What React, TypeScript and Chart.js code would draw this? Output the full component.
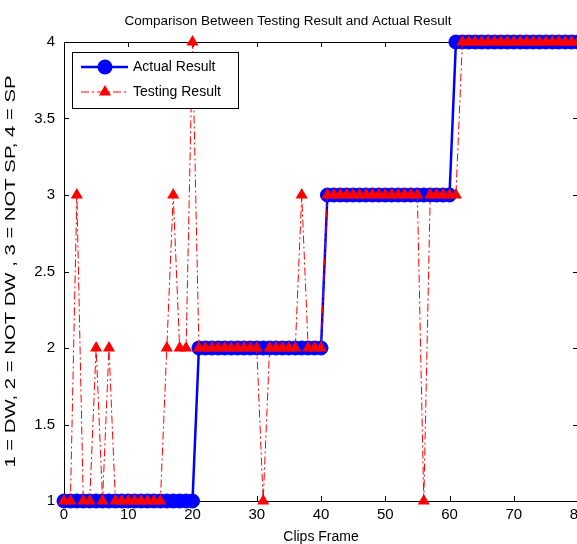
import React, { useEffect, useRef } from 'react';
import { Chart, registerables } from 'chart.js';

Chart.register(...registerables);

const frames = [
  0, 1, 2, 3, 4, 5, 6, 7, 8, 9, 10, 11, 12, 13, 14, 15, 16, 17, 18, 19, 20,
  21, 22, 23, 24, 25, 26, 27, 28, 29, 30, 31, 32, 33, 34, 35, 36, 37, 38, 39, 40,
  41, 42, 43, 44, 45, 46, 47, 48, 49, 50, 51, 52, 53, 54, 55, 56, 57, 58, 59, 60,
  61, 62, 63, 64, 65, 66, 67, 68, 69, 70, 71, 72, 73, 74, 75, 76, 77, 78, 79, 80,
];

const actualResult = [
  1, 1, 1, 1, 1, 1, 1, 1, 1, 1, 1, 1, 1, 1, 1, 1, 1, 1, 1, 1, 1,
  2, 2, 2, 2, 2, 2, 2, 2, 2, 2, 2, 2, 2, 2, 2, 2, 2, 2, 2, 2,
  3, 3, 3, 3, 3, 3, 3, 3, 3, 3, 3, 3, 3, 3, 3, 3, 3, 3, 3, 3,
  4, 4, 4, 4, 4, 4, 4, 4, 4, 4, 4, 4, 4, 4, 4, 4, 4, 4, 4, 4,
];

const testingResult = [
  1, 1, 3, 1, 1, 2, 1, 2, 1, 1, 1, 1, 1, 1, 1, 1, 2, 3, 2, 2, 4,
  2, 2, 2, 2, 2, 2, 2, 2, 2, 2, 1, 2, 2, 2, 2, 2, 3, 2, 2, 2,
  3, 3, 3, 3, 3, 3, 3, 3, 3, 3, 3, 3, 3, 3, 3, 1, 3, 3, 3, 3,
  3, 4, 4, 4, 4, 4, 4, 4, 4, 4, 4, 4, 4, 4, 4, 4, 4, 4, 4, 4,
];

const xTicks = [0, 10, 20, 30, 40, 50, 60, 70, 80];
const yTicks = [1, 1.5, 2, 2.5, 3, 3.5, 4];
const seriesNames = ['Actual Result', 'Testing Result'];
const titleText = 'Comparison Between Testing Result and Actual Result';
const xLabel = 'Clips Frame';
const yLabel = '1 = DW, 2 = NOT DW , 3 = NOT SP, 4 = SP';

const FONT = '"Liberation Sans", Arial, sans-serif';
const BLUE = '#0000ff';
const RED = '#ff0000';
const DASH = [8, 3, 2, 3];

const framePlugin = {
  id: 'matlabFrame',
  beforeDatasetsDraw(chart: any) {
    const { ctx, chartArea } = chart;
    const { left, right, top, bottom } = chartArea;
    const xs = chart.scales.x;
    const ys = chart.scales.y;
    ctx.save();
    ctx.strokeStyle = '#000';
    ctx.lineWidth = 1;
    ctx.beginPath();
    ctx.rect(Math.round(left) + 0.5, Math.round(top) + 0.5, Math.round(right - left), Math.round(bottom - top));
    ctx.stroke();
    const tl = 5;
    ctx.beginPath();
    xTicks.forEach((v) => {
      const p = Math.round(xs.getPixelForValue(v)) + 0.5;
      ctx.moveTo(p, bottom);
      ctx.lineTo(p, bottom - tl);
      ctx.moveTo(p, top);
      ctx.lineTo(p, top + tl);
    });
    yTicks.forEach((v) => {
      const p = Math.round(ys.getPixelForValue(v)) + 0.5;
      ctx.moveTo(left, p);
      ctx.lineTo(left + tl, p);
      ctx.moveTo(right, p);
      ctx.lineTo(right - tl, p);
    });
    ctx.stroke();
    ctx.restore();
  },
};

const textPlugin = {
  id: 'matlabTexts',
  afterDraw(chart: any) {
    const { ctx, chartArea } = chart;
    ctx.save();
    ctx.fillStyle = '#000';
    ctx.font = `13.5px ${FONT}`;
    ctx.textAlign = 'center';
    ctx.textBaseline = 'middle';
    ctx.fillText(titleText, 288, 21);

    // rotated y-axis label, elongated along its baseline like the Matlab rendering
    ctx.translate(11, (chartArea.top + chartArea.bottom) / 2);
    ctx.rotate(-Math.PI / 2);
    ctx.scale(1.45, 1);
    ctx.font = `14px ${FONT}`;
    ctx.fillText(yLabel, 0, 0);
    ctx.restore();
  },
};

const legendPlugin = {
  id: 'insideLegend',
  afterDatasetsDraw(chart: any) {
    const { ctx } = chart;
    const bx = 72.5, by = 52.5, bw = 166, bh = 56;
    ctx.save();
    ctx.fillStyle = '#fff';
    ctx.fillRect(bx, by, bw, bh);
    ctx.strokeStyle = '#000';
    ctx.lineWidth = 1;
    ctx.strokeRect(bx, by, bw, bh);

    // Actual Result
    let y = 67;
    ctx.strokeStyle = BLUE;
    ctx.lineWidth = 2.5;
    ctx.beginPath();
    ctx.moveTo(81, y);
    ctx.lineTo(128, y);
    ctx.stroke();
    ctx.fillStyle = BLUE;
    ctx.beginPath();
    ctx.arc(105, y, 7.5, 0, Math.PI * 2);
    ctx.fill();

    // Testing Result
    y = 92;
    ctx.strokeStyle = RED;
    ctx.lineWidth = 1;
    ctx.setLineDash(DASH);
    ctx.beginPath();
    ctx.moveTo(81, y);
    ctx.lineTo(128, y);
    ctx.stroke();
    ctx.setLineDash([]);
    ctx.fillStyle = RED;
    const r = 7;
    ctx.beginPath();
    ctx.moveTo(105, y - r);
    ctx.lineTo(105 + r * Math.sqrt(3) / 2, y + r / 2);
    ctx.lineTo(105 - r * Math.sqrt(3) / 2, y + r / 2);
    ctx.closePath();
    ctx.fill();

    ctx.fillStyle = '#000';
    ctx.font = `14px ${FONT}`;
    ctx.textAlign = 'left';
    ctx.textBaseline = 'middle';
    ctx.fillText(seriesNames[0], 133, 67);
    ctx.fillText(seriesNames[1], 133, 92);
    ctx.restore();
  },
};

export default function App() {
  const canvasRef = useRef<HTMLCanvasElement | null>(null);

  useEffect(() => {
    const canvas = canvasRef.current;
    if (!canvas) return;
    const actualData = frames.map((f, i) => ({ x: f, y: actualResult[i] }));
    const testingData = frames.map((f, i) => ({ x: f, y: testingResult[i] }));

    const chart = new Chart(canvas, {
      type: 'line',
      data: {
        datasets: [
          {
            label: seriesNames[1],
            data: testingData,
            borderColor: RED,
            backgroundColor: RED,
            borderWidth: 1,
            borderDash: DASH,
            pointStyle: 'triangle',
            pointRadius: 7,
            pointBorderWidth: 0,
            pointBackgroundColor: RED,
            tension: 0,
            clip: false as any,
            order: 1,
          },
          {
            label: seriesNames[0],
            data: actualData,
            borderColor: BLUE,
            backgroundColor: BLUE,
            borderWidth: 2.5,
            pointStyle: 'circle',
            pointRadius: 7,
            pointBorderWidth: 1,
            pointBorderColor: BLUE,
            pointBackgroundColor: BLUE,
            tension: 0,
            clip: false as any,
            order: 2,
          },
        ],
      },
      options: {
        animation: false,
        responsive: false,
        events: [],
        layout: { padding: { top: 42, right: 20, left: 0, bottom: 0 } },
        plugins: {
          legend: { display: false },
          title: { display: false },
          tooltip: { enabled: false },
        },
        scales: {
          x: {
            type: 'linear',
            min: 0,
            max: 80,
            afterBuildTicks: (s: any) => {
              s.ticks = xTicks.map((v) => ({ value: v }));
            },
            afterFit: (s: any) => {
              s.height = 43;
            },
            grid: { display: false, drawTicks: false },
            border: { display: false },
            ticks: {
              color: '#000',
              font: { family: FONT, size: 15 },
              padding: 5,
              maxRotation: 0,
              autoSkip: false,
              callback: (v: any) => String(v),
            },
            title: {
              display: true,
              text: xLabel,
              color: '#000',
              font: { family: FONT, size: 14, lineHeight: 1 },
              padding: 0,
            },
          },
          y: {
            type: 'linear',
            min: 1,
            max: 4,
            afterBuildTicks: (s: any) => {
              s.ticks = yTicks.map((v) => ({ value: v }));
            },
            afterFit: (s: any) => {
              s.width = 64;
            },
            grid: { display: false, drawTicks: false },
            border: { display: false },
            ticks: {
              color: '#000',
              font: { family: FONT, size: 15 },
              padding: 9,
              autoSkip: false,
              callback: (v: any) => String(v),
            },
            title: { display: false },
          },
        },
      },
      plugins: [framePlugin, legendPlugin, textPlugin],
    });

    return () => {
      chart.destroy();
    };
  }, []);

  return (
    <div
      style={{
        position: 'absolute',
        left: 0,
        top: 0,
        width: 577,
        height: 544,
        overflow: 'hidden',
        background: '#fff',
      }}
    >
      <canvas ref={canvasRef} width={598} height={544} style={{ display: 'block' }} />
    </div>
  );
}
